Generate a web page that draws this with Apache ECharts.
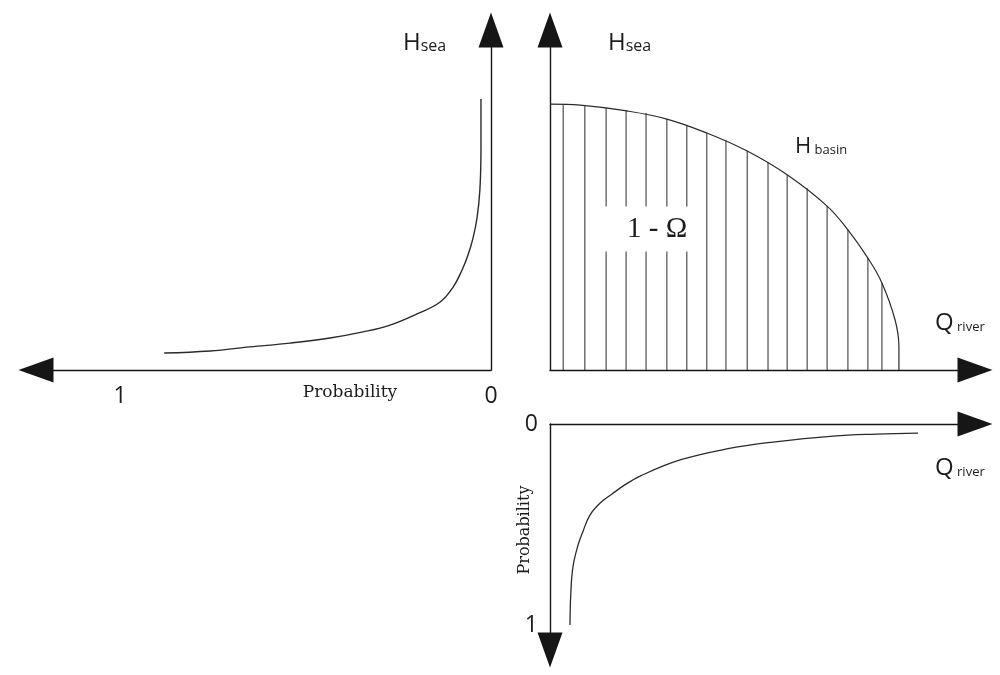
<!DOCTYPE html>
<html>
<head>
<meta charset="utf-8">
<title>Hsea / Qriver joint probability sketch</title>
<script src="https://cdn.jsdelivr.net/npm/echarts@6.0.0/dist/echarts.min.js"></script>
<style>
	html, body { margin: 0; padding: 0; background: #fff; }
	#chart { width: 1000px; height: 675px; }
</style>
</head>
<body>
<div id="chart"></div>
<script>
	// top left panel: sea level against probability
	var seaProb = [0.881, 0.757, 0.650, 0.542, 0.434, 0.345, 0.272, 0.199, 0.137, 0.102, 0.078, 0.062, 0.0485, 0.0377, 0.030, 0.027, 0.027];
	var seaLevel = [5.0, 5.6, 6.8, 7.9, 9.4, 11.2, 13.2, 16.5, 20.0, 24.4, 29.4, 33.8, 38.8, 44.7, 52.9, 65.6, 79.7];

	// top right panel: H basin curve against Q river
	var basinQ = [0, 7.1, 18.1, 27.5, 36.9, 46.4, 55.8, 65.2, 70.1, 74.8, 78.1, 81.2, 82.1, 82.1];
	var basinH = [78.2, 77.9, 76.2, 73.8, 69.7, 64.4, 57.4, 48.2, 41.2, 32.9, 25.6, 14.7, 6.8, 0];

	// hatching under the basin curve
	var hatchQ = [3.1, 8.2, 13.2, 17.9, 22.6, 27.5, 32.2, 36.9, 41.4, 46.4, 51.3, 55.8, 60.5, 65.2, 70.1, 74.8, 78.1];
	var hatchH = [77.9, 77.6, 77.1, 76.5, 75.6, 73.8, 72.1, 69.7, 67.6, 64.4, 61.2, 57.4, 53.5, 48.2, 41.2, 32.9, 25.6];

	// bottom panel: probability against Q river
	var riverQ = [4.7, 4.9, 5.4, 6.6, 7.8, 9.4, 11.8, 14.6, 17.6, 21.2, 30.6, 41.6, 52.5, 66.6, 76.9, 86.6];
	var riverProb = [1.0, 0.841, 0.711, 0.602, 0.532, 0.453, 0.393, 0.348, 0.303, 0.259, 0.179, 0.124, 0.090, 0.060, 0.050, 0.045];

	// probability tick labels
	var probTicks = [0, 1];

	var ink = '#1c1c1c';
	var lineInk = '#2a2a2a';
	var sans = '"Open Sans", "DejaVu Sans", sans-serif';
	var serif = '"DejaVu Serif", "Liberation Serif", serif';

	function pairs(xs, ys) {
		var out = [];
		for (var i = 0; i < xs.length; i++) {
			out.push([xs[i], ys[i]]);
		}
		return out;
	}

	function probLabel(v) {
		return probTicks.indexOf(v) > -1 ? String(v) : '';
	}

	function axisLineStyle(symbol) {
		return {
			show: true,
			onZero: false,
			symbol: symbol,
			symbolSize: [25, 35],
			lineStyle: { color: '#161616', width: 1.4 }
		};
	}

	// big letter + small suffix, e.g. H sea
	function nameLabel(x, y, big, small, bigSize, smallSize) {
		return {
			type: 'text',
			x: x,
			y: y,
			z: 100,
			style: {
				text: '{a|' + big + '}{b|' + small + '}',
				verticalAlign: 'bottom',
				rich: {
					a: { font: bigSize + 'px ' + sans, fill: ink, verticalAlign: 'bottom' },
					b: { font: smallSize + 'px ' + sans, fill: ink, verticalAlign: 'bottom', padding: [0, 0, 1, 0] }
				}
			}
		};
	}

	var myChart = echarts.init(document.getElementById('chart'));

	var option = {
		animation: false,
		backgroundColor: '#fff',
		grid: [
			{ left: 36, right: 509, top: 30, bottom: 305 },
			{ left: 550, right: 25, top: 30, bottom: 305 },
			{ left: 550, right: 25, top: 424, bottom: 25 }
		],
		xAxis: [
			{
				gridIndex: 0, type: 'value', inverse: true, position: 'bottom',
				min: 0, max: 1.2264, interval: 1,
				axisLine: axisLineStyle(['triangle', 'none']),
				axisTick: { show: false },
				splitLine: { show: false },
				axisLabel: { show: true, margin: 15, formatter: probLabel, color: ink, fontSize: 23, fontFamily: sans }
			},
			{
				gridIndex: 1, type: 'value', position: 'bottom', min: 0, max: 100,
				axisLine: axisLineStyle(['none', 'triangle']),
				axisTick: { show: false }, splitLine: { show: false }, axisLabel: { show: false }
			},
			{
				gridIndex: 2, type: 'value', position: 'top', min: 0, max: 100,
				axisLine: axisLineStyle(['none', 'triangle']),
				axisTick: { show: false }, splitLine: { show: false }, axisLabel: { show: false }
			}
		],
		yAxis: [
			{
				gridIndex: 0, type: 'value', position: 'right', min: 0, max: 100,
				axisLine: axisLineStyle(['none', 'triangle']),
				axisTick: { show: false }, splitLine: { show: false }, axisLabel: { show: false }
			},
			{
				gridIndex: 1, type: 'value', position: 'left', min: 0, max: 100,
				axisLine: axisLineStyle(['none', 'triangle']),
				axisTick: { show: false }, splitLine: { show: false }, axisLabel: { show: false }
			},
			{
				gridIndex: 2, type: 'value', position: 'left', inverse: true,
				min: 0, max: 1.1244, interval: 1,
				axisLine: axisLineStyle(['triangle', 'none']),
				axisTick: { show: false },
				splitLine: { show: false },
				axisLabel: { show: true, margin: 12, formatter: probLabel, color: ink, fontSize: 23, fontFamily: sans }
			}
		],
		series: [
			{
				name: 'Hsea',
				type: 'line',
				xAxisIndex: 0, yAxisIndex: 0,
				data: pairs(seaProb, seaLevel),
				showSymbol: false,
				smooth: 0.4,
				smoothConstraint: false,
				lineStyle: { color: lineInk, width: 1.4 }
			},
			{
				name: 'hatch',
				type: 'custom',
				xAxisIndex: 1, yAxisIndex: 1,
				data: pairs(hatchQ, hatchH),
				renderItem: function (params, api) {
					var foot = api.coord([api.value(0), 0]);
					var head = api.coord([api.value(0), api.value(1)]);
					return {
						type: 'line',
						shape: { x1: foot[0], y1: foot[1], x2: head[0], y2: head[1] },
						style: { stroke: lineInk, lineWidth: 1 }
					};
				}
			},
			{
				name: 'H basin',
				type: 'line',
				xAxisIndex: 1, yAxisIndex: 1,
				data: pairs(basinQ, basinH),
				showSymbol: false,
				smooth: 0.4,
				smoothConstraint: false,
				lineStyle: { color: lineInk, width: 1.2 }
			},
			{
				name: 'Q river',
				type: 'line',
				xAxisIndex: 2, yAxisIndex: 2,
				data: pairs(riverQ, riverProb),
				showSymbol: false,
				smooth: 0.4,
				smoothConstraint: false,
				lineStyle: { color: lineInk, width: 1.3 }
			}
		],
		graphic: [
			nameLabel(403, 55, 'H', 'sea', 24, 16),
			nameLabel(608, 55, 'H', 'sea', 24, 16),
			nameLabel(795, 158, 'H', ' basin', 22, 13),
			nameLabel(935, 335, 'Q', ' river', 24, 13),
			nameLabel(935, 480, 'Q', ' river', 24, 13),
			{
				type: 'text', x: 350, y: 393, z: 100,
				style: { text: 'Probability', font: '17px ' + serif, fill: ink, align: 'center', verticalAlign: 'middle' }
			},
			{
				type: 'text', x: 525, y: 530, z: 100, rotation: Math.PI / 2,
				style: { text: 'Probability', font: '16px ' + serif, fill: ink, align: 'center', verticalAlign: 'middle' }
			},
			{
				// label box covers the hatching behind it
				type: 'text', x: 600, y: 229, z: 100,
				style: {
					text: '1 - Ω', font: '29px "Liberation Serif", serif', fill: ink,
					align: 'left', verticalAlign: 'middle',
					backgroundColor: '#fff', padding: [8, 2, 8, 27]
				}
			}
		]
	};

	myChart.setOption(option);
</script>
</body>
</html>
